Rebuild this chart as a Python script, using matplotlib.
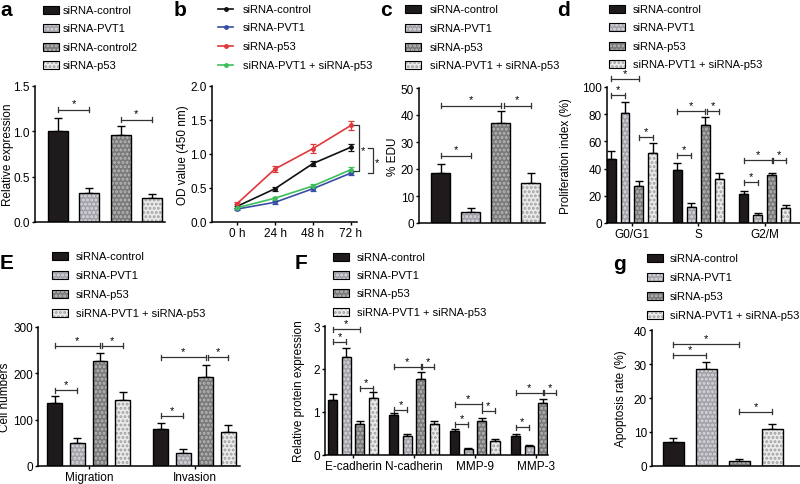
import numpy as np
import matplotlib
matplotlib.use("Agg")
import matplotlib.pyplot as plt
from matplotlib.patches import Rectangle
from matplotlib.lines import Line2D

plt.rcParams['font.family'] = ['Liberation Sans', 'DejaVu Sans']
plt.rcParams['font.size'] = 8.5
plt.rcParams['hatch.linewidth'] = 1.4

# ---- data ----
a_labels = ["siRNA-control", "siRNA-PVT1", "siRNA-control2", "siRNA-p53"]
a_vals = [1.00, 0.32, 0.96, 0.26]
a_err = [0.15, 0.05, 0.10, 0.05]

grp_labels = ["siRNA-control", "siRNA-PVT1", "siRNA-p53", "siRNA-PVT1 + siRNA-p53"]

hours = ["0 h", "24 h", "48 h", "72 h"]
b_control = [0.23, 0.49, 0.86, 1.10]
b_control_err = [0.03, 0.03, 0.04, 0.05]
b_pvt1 = [0.19, 0.29, 0.49, 0.72]
b_pvt1_err = [0.02, 0.02, 0.03, 0.03]
b_p53 = [0.27, 0.78, 1.08, 1.42]
b_p53_err = [0.03, 0.04, 0.06, 0.07]
b_combo = [0.21, 0.35, 0.53, 0.77]
b_combo_err = [0.02, 0.02, 0.03, 0.04]

c_vals = [18.5, 4.2, 37.0, 15.0]
c_err = [3.5, 1.2, 4.5, 3.5]

d_groups = ["G0/G1", "S", "G2/M"]
d_vals = [[47, 39, 21], [81, 12, 6], [27.5, 72, 35.5], [51.5, 32, 11]]
d_err = [[6, 5, 2.5], [8, 2.5, 1.5], [3.5, 6, 1], [7.5, 4.5, 2]]

e_groups = ["Migration", "Invasion"]
e_vals = [[137, 80], [50, 29], [226, 193], [143, 74]]
e_err = [[14, 13], [10, 7], [18, 25], [16, 15]]

f_groups = ["E-cadherin", "N-cadherin", "MMP-9", "MMP-3"]
f_vals = [[1.28, 0.92, 0.55, 0.45], [2.28, 0.44, 0.15, 0.21],
          [0.71, 1.77, 0.80, 1.20], [1.33, 0.73, 0.33, 0.41]]
f_err = [[0.15, 0.06, 0.06, 0.05], [0.22, 0.04, 0.02, 0.02],
         [0.08, 0.15, 0.06, 0.10], [0.13, 0.07, 0.04, 0.04]]

g_vals = [7.2, 28.5, 1.6, 11.0]
g_err = [1.0, 2.0, 0.5, 1.3]

# ---- styles ----
W, H = 800, 485
LEG_FS = 8.0
styles = [("#1f1b1c", None, None),
          ("#a2a2aa", "....", "#dadade"),
          ("#7a7a7a", "....", "#b8b8b8"),
          ("#ebebeb", "....", "#a0a0a0")]
line_colors = ["#111111", "#3a4ea6", "#e0383b", "#3cbf5a"]

fig = plt.figure(figsize=(W / 100, H / 100), dpi=100)


def px_axes(l, t, r, b):
    ax = fig.add_axes([l / W, 1 - b / H, (r - l) / W, (b - t) / H])
    for s in ["top", "right"]:
        ax.spines[s].set_visible(False)
    for s in ["left", "bottom"]:
        ax.spines[s].set_linewidth(1.1)
    ax.tick_params(length=2.5, width=1, pad=1.2, labelsize=8.5)
    return ax


def draw_bar(ax, x, v, e, w, st):
    face, hatch, hc = st
    if hatch:
        ax.bar(x, v, w, color=face, hatch=hatch, edgecolor=hc, linewidth=0, zorder=2)
    else:
        ax.bar(x, v, w, color=face, linewidth=0, zorder=2)
    ax.bar(x, v, w, fill=False, edgecolor="black", linewidth=1, zorder=3)
    ax.errorbar(x, v, yerr=[np.zeros(len(np.atleast_1d(v))), e], fmt="none",
                ecolor="black", elinewidth=1, capsize=3, capthick=1, zorder=1)


def bracket(ax, x1, x2, y, hpx=2.5):
    y0, y1 = ax.get_ylim()
    hgt = ax.get_position().height * H
    h = (y1 - y0) * hpx / hgt
    kw = dict(color="#333333", lw=0.9, clip_on=False)
    ax.plot([x1, x2], [y, y], **kw)
    ax.plot([x1, x1], [y - h, y + h], **kw)
    ax.plot([x2, x2], [y - h, y + h], **kw)
    ax.text((x1 + x2) / 2, y + h * 0.4, "*", ha="center", va="bottom", fontsize=8)


def legend_bars(xp, xt, ys, labels):
    for yy, lab, st in zip(ys, labels, styles):
        face, hatch, hc = st
        r = Rectangle((xp / W, 1 - (yy + 4) / H), 16 / W, 8 / H, transform=fig.transFigure,
                      facecolor=face, edgecolor=hc if hatch else face, hatch=hatch, linewidth=0)
        fig.add_artist(r)
        fig.add_artist(Rectangle((xp / W, 1 - (yy + 4) / H), 16 / W, 8 / H, transform=fig.transFigure,
                                 fill=False, edgecolor="black", linewidth=0.8))
        fig.text(xt / W, 1 - yy / H, lab, va="center", ha="left", fontsize=LEG_FS)


def ylabel(ax, text, xpx):
    # xpx is the centre of the rotated label; the anchor is its right edge
    pos = ax.get_position()
    ax.set_ylabel(text, fontsize=8.5)
    ax.yaxis.set_label_coords(((xpx + 6) / W - pos.x0) / pos.width, 0.5)


def letter(x, y, s):
    fig.text(x / W, 1 - y / H, s, fontsize=15, fontweight="bold", ha="center", va="center")


# ---- a ----
ax = px_axes(35, 87, 165, 223)
ax.set_ylim(0, 1.5)
ax.set_xlim(-0.74, 3.42)
ax.set_yticks([0, 0.5, 1.0, 1.5])
ax.set_yticklabels(["0.0", "0.5", "1.0", "1.5"])
ax.set_xticks([])
for i in range(4):
    draw_bar(ax, [i], [a_vals[i]], [a_err[i]], 0.64, styles[i])
bracket(ax, 0, 1, 1.24)
bracket(ax, 2, 3, 1.13)
ylabel(ax, "Relative expression", 8)
legend_bars(43, 63, [11, 29, 48, 66], a_labels)
letter(6, 10, "a")

# ---- b ----
ax = px_axes(212, 87, 357, 223)
ax.set_ylim(0, 2.0)
ax.set_xlim(-0.66, 3.16)
ax.set_yticks([0, 0.5, 1.0, 1.5, 2.0])
ax.set_yticklabels(["0.0", "0.5", "1.0", "1.5", "2.0"])
xh = np.arange(len(hours))
ax.set_xticks(xh)
ax.set_xticklabels(hours)
series = [(b_control, b_control_err), (b_pvt1, b_pvt1_err), (b_p53, b_p53_err), (b_combo, b_combo_err)]
for (v, e), col in zip(series, line_colors):
    ax.errorbar(xh, v, yerr=e, color=col, lw=1.2, marker="o", ms=2.5,
                capsize=2, elinewidth=0.9, capthick=0.9)
kw = dict(color="#333333", lw=0.9, clip_on=False)
ax.plot([3.05, 3.21, 3.21, 3.05], [1.43, 1.43, 0.75, 0.75], **kw)
ax.text(3.32, 1.06, "*", ha="center", va="center", fontsize=8)
ax.plot([3.45, 3.58, 3.58, 3.45], [1.09, 1.09, 0.72, 0.72], **kw)
ax.text(3.69, 0.88, "*", ha="center", va="center", fontsize=8)
ylabel(ax, "OD value (450 nm)", 183)
for yy, lab, col in zip([10, 28, 47, 66], grp_labels, line_colors):
    fig.add_artist(Line2D([218 / W, 233 / W], [1 - yy / H] * 2, transform=fig.transFigure,
                          color=col, lw=1.2))
    fig.add_artist(Line2D([225.5 / W], [1 - yy / H], transform=fig.transFigure,
                          color=col, marker="o", ms=2.5))
    fig.text(243 / W, 1 - yy / H, lab, va="center", ha="left", fontsize=LEG_FS)
letter(180, 10, "b")

# ---- c ----
ax = px_axes(419, 89, 545, 224)
ax.set_ylim(0, 50)
ax.set_xlim(-0.73, 3.47)
ax.set_yticks(range(0, 51, 10))
ax.set_xticks([])
for i in range(4):
    draw_bar(ax, [i], [c_vals[i]], [c_err[i]], 0.63, styles[i])
bracket(ax, 0, 1, 25)
bracket(ax, 0, 2, 43.5)
bracket(ax, 2.1, 3, 43.5)
ylabel(ax, "% EDU", 393)
legend_bars(405, 430, [10, 29, 48, 66], grp_labels)
letter(386, 11, "c")

# ---- d ----
ax = px_axes(607, 88, 800, 224)
ax.set_ylim(0, 100)
ax.set_xlim(-0.376, 2.53)
ax.set_yticks(range(0, 101, 20))
gx = np.arange(len(d_groups))
ax.set_xticks(gx)
ax.set_xticklabels(d_groups)
offs = np.array([-1.5, -0.5, 0.5, 1.5]) * 0.21
for i in range(4):
    draw_bar(ax, gx + offs[i], d_vals[i], d_err[i], 0.135, styles[i])
bracket(ax, offs[0], offs[2], 106)
bracket(ax, offs[0], offs[1], 94)
bracket(ax, offs[2], offs[3], 63)
bracket(ax, 1 + offs[0], 1 + offs[2], 82)
bracket(ax, 1 + offs[2] + 0.02, 1 + offs[3], 82)
bracket(ax, 1 + offs[0], 1 + offs[1], 50)
bracket(ax, 2 + offs[0], 2 + offs[2], 46)
bracket(ax, 2 + offs[2] + 0.02, 2 + offs[3], 46)
bracket(ax, 2 + offs[0], 2 + offs[1], 30)
ylabel(ax, "Proliferation index (%)", 566)
legend_bars(609, 633, [10, 28, 47, 65], grp_labels)
letter(564, 11, "d")

# ---- E ----
ax = px_axes(38, 328, 240, 467)
ax.set_ylim(0, 300)
ax.set_xlim(-0.48, 1.43)
ax.set_yticks([0, 100, 200, 300])
gx = np.arange(len(e_groups))
ax.set_xticks(gx)
ax.set_xticklabels(e_groups)
offs = np.array([-1.5, -0.5, 0.5, 1.5]) * 0.214
for i in range(4):
    draw_bar(ax, gx + offs[i], e_vals[i], e_err[i], 0.14, styles[i])
bracket(ax, offs[0], offs[1], 163)
bracket(ax, offs[0], offs[2], 259)
bracket(ax, offs[2] + 0.02, offs[3], 259)
bracket(ax, 1 + offs[0], 1 + offs[1], 108)
bracket(ax, 1 + offs[0], 1 + offs[2], 235)
bracket(ax, 1 + offs[2] + 0.02, 1 + offs[3], 235)
ylabel(ax, "Cell numbers", 5)
legend_bars(52, 76, [257, 276, 295, 314], grp_labels)
letter(7, 264, "E")

# ---- F ----
ax = px_axes(325, 327, 548, 456)
ax.set_ylim(0, 3)
ax.set_xlim(-0.46, 3.2)
ax.set_yticks([0, 1, 2, 3])
gx = np.arange(len(f_groups))
ax.set_xticks(gx)
ax.set_xticklabels(f_groups)
offs = np.array([-1.5, -0.5, 0.5, 1.5]) * 0.22
for i in range(4):
    draw_bar(ax, gx + offs[i], f_vals[i], f_err[i], 0.148, styles[i])
bracket(ax, offs[0], offs[1], 2.63)
bracket(ax, offs[0], offs[2], 2.92)
bracket(ax, offs[2], offs[3], 1.55)
bracket(ax, 1 + offs[0], 1 + offs[1], 1.05)
bracket(ax, 1 + offs[0], 1 + offs[2], 2.05)
bracket(ax, 1 + offs[2] + 0.02, 1 + offs[3], 2.05)
bracket(ax, 2 + offs[0], 2 + offs[1], 0.72)
bracket(ax, 2 + offs[0], 2 + offs[2], 1.18)
bracket(ax, 2 + offs[2], 2 + offs[3], 1.03)
bracket(ax, 3 + offs[0], 3 + offs[1], 0.65)
bracket(ax, 3 + offs[0], 3 + offs[2], 1.45)
bracket(ax, 3 + offs[2] + 0.02, 3 + offs[3], 1.45)
ylabel(ax, "Relative protein expression", 299)
legend_bars(333, 357, [258, 276, 294, 313], grp_labels)
letter(301, 264, "F")

# ---- g ----
ax = px_axes(652, 331, 800, 467)
ax.set_ylim(0, 40)
ax.set_xlim(-0.65, 3.85)
ax.set_yticks(range(0, 41, 10))
ax.set_xticks([])
for i in range(4):
    draw_bar(ax, [i], [g_vals[i]], [g_err[i]], 0.64, styles[i])
bracket(ax, 0, 1, 32.6)
bracket(ax, 0, 2, 35.8)
bracket(ax, 2, 3, 16)
ylabel(ax, "Apoptosis rate (%)", 621)
legend_bars(647, 670, [259, 278, 297, 316], grp_labels)
letter(619, 265, "g")

fig.savefig("out.png", dpi=100)
